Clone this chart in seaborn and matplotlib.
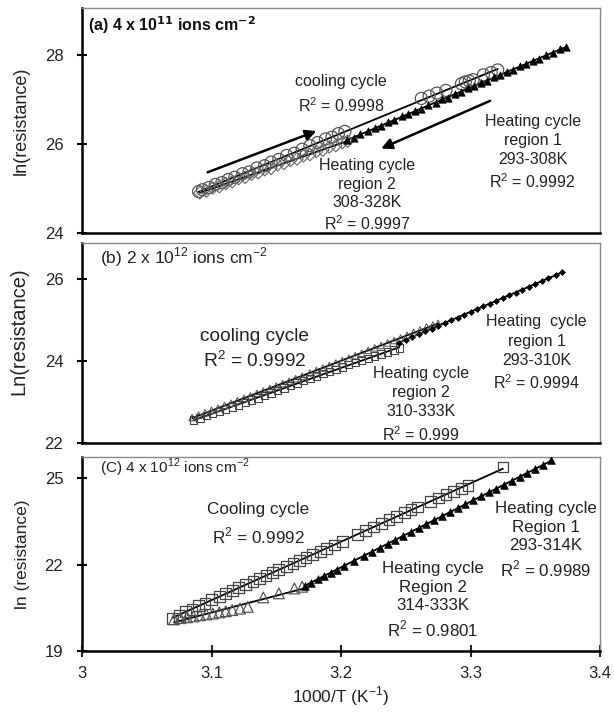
import numpy as np
import seaborn as sns
from matplotlib import pyplot as plt

# ---- panel (a) 4 x 10^11 ions cm^-2
a_cool_x = [3.090, 3.093, 3.098, 3.103, 3.108, 3.113, 3.118, 3.124, 3.129, 3.135, 3.141,
            3.146, 3.152, 3.158, 3.164, 3.170, 3.176, 3.182, 3.188, 3.193, 3.198, 3.203,
            3.262, 3.268, 3.274, 3.281, 3.293, 3.296, 3.299, 3.302, 3.310, 3.316, 3.321]
a_cool_y = [24.93, 24.97, 25.02, 25.09, 25.13, 25.20, 25.25, 25.33, 25.37, 25.46, 25.51,
            25.59, 25.65, 25.74, 25.79, 25.88, 25.96, 26.03, 26.11, 26.15, 26.23, 26.28,
            27.02, 27.07, 27.14, 27.20, 27.35, 27.39, 27.41, 27.44, 27.55, 27.60, 27.66]
a_heat2_x = [3.091, 3.096, 3.101, 3.106, 3.111, 3.116, 3.121, 3.126, 3.131, 3.136, 3.141, 3.146,
             3.151, 3.156, 3.161, 3.166, 3.171, 3.176, 3.181, 3.186, 3.191, 3.196, 3.201, 3.205]
a_heat2_y = [24.90, 24.94, 25.01, 25.04, 25.11, 25.15, 25.22, 25.25, 25.32, 25.35, 25.42, 25.45,
             25.53, 25.56, 25.63, 25.66, 25.73, 25.76, 25.83, 25.86, 25.93, 25.96, 26.03, 26.06]
a_heat1_x = [3.205, 3.210, 3.215, 3.221, 3.226, 3.231, 3.236, 3.241, 3.247, 3.252, 3.257, 3.262,
             3.267, 3.273, 3.278, 3.283, 3.288, 3.293, 3.298, 3.303, 3.308, 3.313, 3.318, 3.323,
             3.328, 3.333, 3.338, 3.343, 3.348, 3.353, 3.358, 3.364, 3.369, 3.374]
a_heat1_y = [26.09, 26.14, 26.22, 26.28, 26.36, 26.40, 26.48, 26.53, 26.62, 26.66, 26.74, 26.79,
             26.87, 26.92, 27.00, 27.04, 27.13, 27.17, 27.25, 27.29, 27.37, 27.42, 27.50, 27.54,
             27.62, 27.66, 27.75, 27.79, 27.87, 27.91, 27.99, 28.05, 28.13, 28.18]

# ---- panel (b) 2 x 10^12 ions cm^-2
b_cool_x = [3.085, 3.090, 3.095, 3.100, 3.105, 3.110, 3.115, 3.120, 3.125, 3.130, 3.135, 3.140,
            3.145, 3.150, 3.155, 3.160, 3.165, 3.170, 3.176, 3.181, 3.186, 3.191, 3.196, 3.201,
            3.206, 3.211, 3.216, 3.221, 3.226, 3.231, 3.236, 3.241, 3.246, 3.251, 3.256, 3.261,
            3.266, 3.271, 3.275]
b_cool_y = [22.62, 22.68, 22.74, 22.80, 22.85, 22.92, 22.97, 23.03, 23.09, 23.15, 23.21, 23.27,
            23.33, 23.39, 23.45, 23.51, 23.57, 23.63, 23.71, 23.77, 23.83, 23.89, 23.95, 24.01,
            24.07, 24.13, 24.19, 24.26, 24.32, 24.38, 24.44, 24.50, 24.56, 24.63, 24.70, 24.76,
            24.83, 24.88, 24.92]
b_heat2_x = [3.086, 3.091, 3.096, 3.101, 3.106, 3.111, 3.116, 3.121, 3.126, 3.131, 3.136, 3.141,
             3.146, 3.151, 3.156, 3.161, 3.166, 3.171, 3.176, 3.181, 3.186, 3.191, 3.196, 3.201,
             3.206, 3.211, 3.216, 3.221, 3.226, 3.231, 3.236, 3.241, 3.245]
b_heat2_y = [22.56, 22.61, 22.67, 22.72, 22.77, 22.83, 22.88, 22.93, 22.99, 23.05, 23.10, 23.16,
             23.22, 23.28, 23.34, 23.40, 23.46, 23.52, 23.58, 23.63, 23.69, 23.74, 23.80, 23.85,
             23.91, 23.96, 24.01, 24.06, 24.12, 24.17, 24.22, 24.27, 24.32]
b_heat1_x = [3.245, 3.250, 3.255, 3.260, 3.265, 3.270, 3.275, 3.280, 3.285, 3.290, 3.295, 3.300,
             3.305, 3.310, 3.315, 3.320, 3.325, 3.330, 3.335, 3.340, 3.345, 3.350, 3.355, 3.360,
             3.366, 3.371]
b_heat1_y = [24.45, 24.52, 24.59, 24.66, 24.73, 24.79, 24.86, 24.93, 25.00, 25.06, 25.13, 25.20,
             25.27, 25.34, 25.40, 25.47, 25.54, 25.61, 25.67, 25.74, 25.81, 25.88, 25.95, 26.02,
             26.10, 26.17]

# ---- panel (c) 4 x 10^12 ions cm^-2
c_cool_x = [3.070, 3.075, 3.080, 3.085, 3.090, 3.095, 3.100, 3.106, 3.111, 3.116, 3.121, 3.126,
            3.132, 3.137, 3.142, 3.147, 3.152, 3.158, 3.163, 3.168, 3.173, 3.178, 3.184, 3.189,
            3.195, 3.201, 3.213, 3.219, 3.225, 3.231, 3.237, 3.243, 3.249, 3.254, 3.259,
            3.269, 3.275, 3.281, 3.287, 3.293, 3.298, 3.325]
c_cool_y = [20.14, 20.24, 20.36, 20.45, 20.57, 20.66, 20.78, 20.89, 21.00, 21.10, 21.20, 21.30,
            21.42, 21.52, 21.62, 21.72, 21.82, 21.94, 22.04, 22.14, 22.24, 22.35, 22.46, 22.56,
            22.68, 22.80, 23.05, 23.17, 23.30, 23.43, 23.55, 23.67, 23.80, 23.90, 24.00,
            24.20, 24.31, 24.42, 24.53, 24.64, 24.75, 25.38]
c_heat2_x = [3.071, 3.076, 3.081, 3.086, 3.091, 3.096, 3.101, 3.106, 3.111, 3.116, 3.122, 3.128,
             3.140, 3.152, 3.164, 3.170]
c_heat2_y = [20.10, 20.14, 20.17, 20.20, 20.24, 20.27, 20.30, 20.34, 20.38, 20.42, 20.47, 20.53,
             20.86, 21.00, 21.17, 21.23]
c_heat1_x = [3.172, 3.177, 3.182, 3.187, 3.192, 3.197, 3.202, 3.210, 3.218, 3.224, 3.230, 3.236,
             3.242, 3.248, 3.254, 3.260, 3.266, 3.272, 3.278, 3.284, 3.290, 3.296, 3.302, 3.308,
             3.314, 3.320, 3.326, 3.332, 3.338, 3.344, 3.350, 3.356, 3.362]
c_heat1_y = [21.27, 21.37, 21.50, 21.60, 21.72, 21.82, 21.95, 22.12, 22.30, 22.44, 22.58, 22.72,
             22.86, 23.00, 23.14, 23.28, 23.42, 23.56, 23.70, 23.83, 23.97, 24.11, 24.24, 24.37,
             24.50, 24.63, 24.76, 24.89, 25.02, 25.16, 25.30, 25.46, 25.62]

x_ticks = [3, 3.1, 3.2, 3.3, 3.4]
x_tick_labels = ['3', '3.1', '3.2', '3.3', '3.4']

sns.set_theme(style='white')
plt.rcParams['font.family'] = ['Liberation Sans', 'DejaVu Sans']
plt.rcParams['mathtext.fontset'] = 'custom'
plt.rcParams['mathtext.rm'] = 'Liberation Sans'

fig = plt.figure(figsize=(6.14, 7.14), dpi=100)
ax_a = fig.add_axes([0.1336, 0.6737, 0.8436, 0.3151])
ax_b = fig.add_axes([0.1336, 0.3796, 0.8436, 0.2801])
ax_c = fig.add_axes([0.1336, 0.0882, 0.8436, 0.2717])


def style_axes(ax, ylim, yticks, ylabel, label_size, show_x):
    ax.set_xlim(3, 3.4)
    ax.set_ylim(*ylim)
    ax.set_yticks(yticks)
    ax.set_yticklabels([str(t) for t in yticks])
    ax.set_ylabel(ylabel, fontsize=label_size, color='#222222')
    ax.yaxis.set_label_coords(-0.1, 0.5)
    for s in ['left', 'bottom']:
        ax.spines[s].set_color('black')
        ax.spines[s].set_linewidth(1.8)
    for s in ['top', 'right']:
        ax.spines[s].set_color('#888888')
        ax.spines[s].set_linewidth(1.0)
    ax.tick_params(axis='y', left=True, direction='inout', length=7, width=1.5,
                   labelsize=12, pad=10, colors='black', labelcolor='#222222')
    if show_x:
        ax.set_xticks(x_ticks)
        ax.set_xticklabels(x_tick_labels)
        ax.tick_params(axis='x', bottom=True, direction='inout', length=8, width=1.5,
                       labelsize=12, pad=7, labelcolor='#222222')
    else:
        ax.set_xticks([])
    ax.set_xlabel('')


def fit_line(ax, x, y):
    sns.regplot(x=x, y=y, ax=ax, scatter=False, ci=None, truncate=True,
                line_kws=dict(color='black', lw=1.3))


txt = dict(ha='center', va='center', color='#222222')

# ---- (a)
sns.scatterplot(x=a_cool_x, y=a_cool_y, ax=ax_a, marker='o', s=75, facecolor='none',
                edgecolor='#555555', linewidth=0.9, zorder=3)
sns.scatterplot(x=a_heat2_x, y=a_heat2_y, ax=ax_a, marker='D', s=40, facecolor='none',
                edgecolor='#666666', linewidth=0.8, zorder=3)
sns.scatterplot(x=a_heat1_x, y=a_heat1_y, ax=ax_a, marker='^', s=28, color='black',
                edgecolor='black', linewidth=0.5, zorder=3)
fit_line(ax_a, a_cool_x, a_cool_y)
fit_line(ax_a, a_heat2_x, a_heat2_y)
fit_line(ax_a, a_heat1_x, a_heat1_y)
style_axes(ax_a, (24, 29.05), [24, 26, 28], 'ln(resistance)', 13, False)
ax_a.text(0.012, 0.924, r'(a) 4 x 10$^{\mathbf{11}}$ ions cm$^{\mathbf{-2}}$',
          transform=ax_a.transAxes, fontsize=11.5, fontweight='bold', va='center', color='#111111')
ax_a.text(3.2, 27.1, 'cooling cycle\nR$^2$ = 0.9998', fontsize=11.5, linespacing=1.45, **txt)
ax_a.text(3.348, 25.81, 'Heating cycle\nregion 1\n293-308K\nR$^2$ = 0.9992', fontsize=11.5,
          linespacing=1.33, **txt)
ax_a.text(3.22, 24.84, 'Heating cycle\nregion 2\n308-328K\nR$^2$ = 0.9997', fontsize=11.5,
          linespacing=1.27, **txt)
ax_a.annotate('', xy=(3.183, 26.31), xytext=(3.095, 25.34),
              arrowprops=dict(arrowstyle='-|>', color='black', lw=1.8, mutation_scale=16))
ax_a.annotate('', xy=(3.229, 25.87), xytext=(3.317, 26.99),
              arrowprops=dict(arrowstyle='-|>', color='black', lw=1.8, mutation_scale=16))

# ---- (b)
sns.scatterplot(x=b_cool_x, y=b_cool_y, ax=ax_b, marker='^', s=22, facecolor='none',
                edgecolor='#555555', linewidth=0.7, zorder=3)
sns.scatterplot(x=b_heat2_x, y=b_heat2_y, ax=ax_b, marker='s', s=28, facecolor='none',
                edgecolor='#444444', linewidth=0.8, zorder=3)
sns.scatterplot(x=b_heat1_x, y=b_heat1_y, ax=ax_b, marker='D', s=9, color='black',
                edgecolor='black', linewidth=0.5, zorder=3)
fit_line(ax_b, b_cool_x, b_cool_y)
fit_line(ax_b, b_heat2_x, b_heat2_y)
fit_line(ax_b, b_heat1_x, b_heat1_y)
style_axes(ax_b, (22, 26.88), [22, 24, 26], 'Ln(resistance)', 14.5, False)
ax_b.yaxis.set_label_coords(-0.104, 0.56)
ax_b.text(0.034, 0.93, r'(b) 2 x 10$^{12}$ ions cm$^{-2}$', transform=ax_b.transAxes,
          fontsize=12.5, va='center', color='#222222')
ax_b.text(3.133, 24.29, 'cooling cycle\nR$^2$ = 0.9992', fontsize=13.8, linespacing=1.3, **txt)
ax_b.text(3.351, 24.19, 'Heating  cycle\nregion 1\n293-310K\nR$^2$ = 0.9994', fontsize=11.5,
          linespacing=1.35, **txt)
ax_b.text(3.262, 22.93, 'Heating cycle\nregion 2\n310-333K\nR$^2$ = 0.999', fontsize=11.5,
          linespacing=1.35, **txt)

# ---- (c)
sns.scatterplot(x=c_cool_x, y=c_cool_y, ax=ax_c, marker='s', s=60, facecolor='none',
                edgecolor='#444444', linewidth=0.9, zorder=3)
sns.scatterplot(x=c_heat2_x, y=c_heat2_y, ax=ax_c, marker='^', s=60, facecolor='none',
                edgecolor='#555555', linewidth=0.9, zorder=3)
sns.scatterplot(x=c_heat1_x, y=c_heat1_y, ax=ax_c, marker='^', s=30, color='black',
                edgecolor='black', linewidth=0.5, zorder=3)
fit_line(ax_c, c_cool_x, c_cool_y)
fit_line(ax_c, c_heat2_x, c_heat2_y)
fit_line(ax_c, c_heat1_x, c_heat1_y)
style_axes(ax_c, (19, 25.73), [19, 22, 25], 'ln (resistance)', 12.5, True)
ax_c.set_xlabel('1000/T (K$^{-1}$)', fontsize=12.5, color='#222222', labelpad=2)
ax_c.text(0.034, 0.945, r'(C) 4 x 10$^{12}$ ions cm$^{-2}$', transform=ax_c.transAxes,
          fontsize=11, va='center', color='#222222')
ax_c.text(3.136, 23.4, 'Cooling cycle\nR$^2$ = 0.9992', fontsize=12.3, linespacing=1.45, **txt)
ax_c.text(3.358, 22.85, 'Heating cycle\nRegion 1\n293-314K\nR$^2$ = 0.9989', fontsize=12.2,
          linespacing=1.3, **txt)
ax_c.text(3.271, 20.77, 'Heating cycle\nRegion 2\n314-333K\nR$^2$ = 0.9801', fontsize=12.2,
          linespacing=1.3, **txt)

fig.savefig('out.png', dpi=100)
